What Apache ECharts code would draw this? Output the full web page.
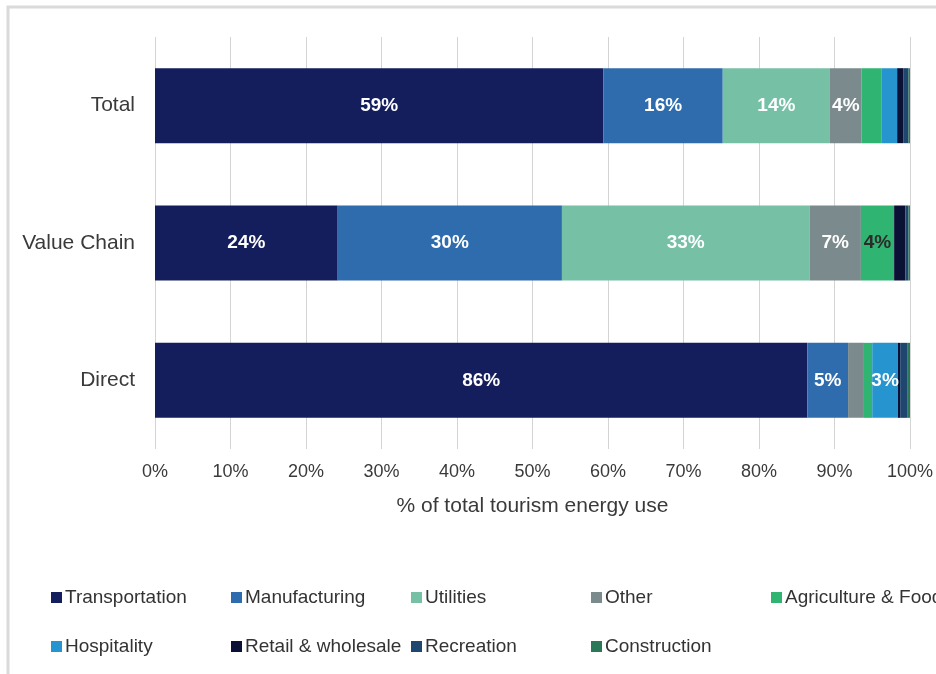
<!DOCTYPE html>
<html>
<head>
<meta charset="utf-8">
<script src="https://cdn.jsdelivr.net/npm/echarts@6/dist/echarts.min.js"></script>
<style>
  html, body { margin: 0; padding: 0; background: #ffffff; }
  #chart { width: 936px; height: 674px; }
</style>
</head>
<body>
<div id="chart"></div>
<script>
// Share of tourism energy use by sector (%)
const categories = ['Direct', 'Value Chain', 'Total'];
const sectors = ['Transportation', 'Manufacturing', 'Utilities', 'Other', 'Agriculture & Food',
                 'Hospitality', 'Retail & wholesale', 'Recreation', 'Construction'];
const colors = ['#141e5c', '#2e6cae', '#76c0a6', '#7b8a8c', '#30b472',
                '#2694cf', '#0a1134', '#1f466f', '#2a7857'];

// values ordered as [Direct, Value Chain, Total]
const transportation = [86.4, 24.2, 59.4];
const manufacturing  = [5.4, 29.7, 15.8];
const utilities      = [0.0, 32.8, 14.2];
const other          = [2.1, 6.8, 4.2];
const agriculture    = [1.1, 4.4, 2.6];
const hospitality    = [3.4, 0.0, 2.1];
const retail         = [0.3, 1.5, 0.8];
const recreation     = [1.0, 0.4, 0.7];
const construction   = [0.3, 0.2, 0.2];

const xTicks = [0, 10, 20, 30, 40, 50, 60, 70, 80, 90, 100];

const seriesValues = [transportation, manufacturing, utilities, other, agriculture,
                      hospitality, retail, recreation, construction];

const FONT = 'Liberation Sans, Arial, sans-serif';

const series = sectors.map((name, i) => ({
  name: name,
  type: 'bar',
  stack: 'energy',
  barWidth: 75,
  itemStyle: { color: colors[i] },
  label: {
    show: true,
    position: 'inside',
    fontFamily: FONT,
    fontSize: 19,
    fontWeight: 'bold',
    color: name === 'Agriculture & Food' ? '#2b2b2b' : '#ffffff',
    formatter: p => (p.value >= 3 ? Math.round(p.value) + '%' : '')
  },
  data: seriesValues[i]
}));

// one legend entry per slot so the entries sit on a fixed column grid
const legends = sectors.map((name, i) => ({
  top: i < 5 ? 583 : 632,
  left: 46 + 180 * (i % 5),
  itemWidth: 11,
  itemHeight: 11,
  icon: 'rect',
  selectedMode: false,
  textStyle: { fontFamily: FONT, fontSize: 19, color: '#333333', padding: [0, 0, 0, -2] },
  data: [name]
}));

const chart = echarts.init(document.getElementById('chart'), null, { renderer: 'canvas' });
chart.setOption({
  animation: false,
  backgroundColor: '#ffffff',
  graphic: [{
    type: 'rect',
    shape: { x: 8, y: 7, width: 960, height: 700 },
    style: { fill: 'none', stroke: '#dadada', lineWidth: 3 },
    silent: true
  }],
  grid: { left: 155, right: 26, top: 37, bottom: 225 },
  xAxis: {
    type: 'value',
    min: 0,
    max: 100,
    interval: 10,
    name: '% of total tourism energy use',
    nameLocation: 'middle',
    nameGap: 47,
    nameTextStyle: { fontFamily: FONT, fontSize: 21, color: '#3a3a3a' },
    axisLine: { show: false },
    axisTick: { show: false },
    axisLabel: {
      fontFamily: FONT, fontSize: 18, color: '#3a3a3a', margin: 14,
      formatter: v => (xTicks.includes(v) ? v + '%' : '')
    },
    splitLine: { show: true, lineStyle: { color: '#d4d4d4', width: 1 } }
  },
  yAxis: {
    type: 'category',
    data: categories,
    axisLine: { show: false },
    axisTick: { show: false },
    axisLabel: { fontFamily: FONT, fontSize: 21, color: '#3a3a3a', margin: 20 }
  },
  legend: legends,
  series: series
});
</script>
</body>
</html>
